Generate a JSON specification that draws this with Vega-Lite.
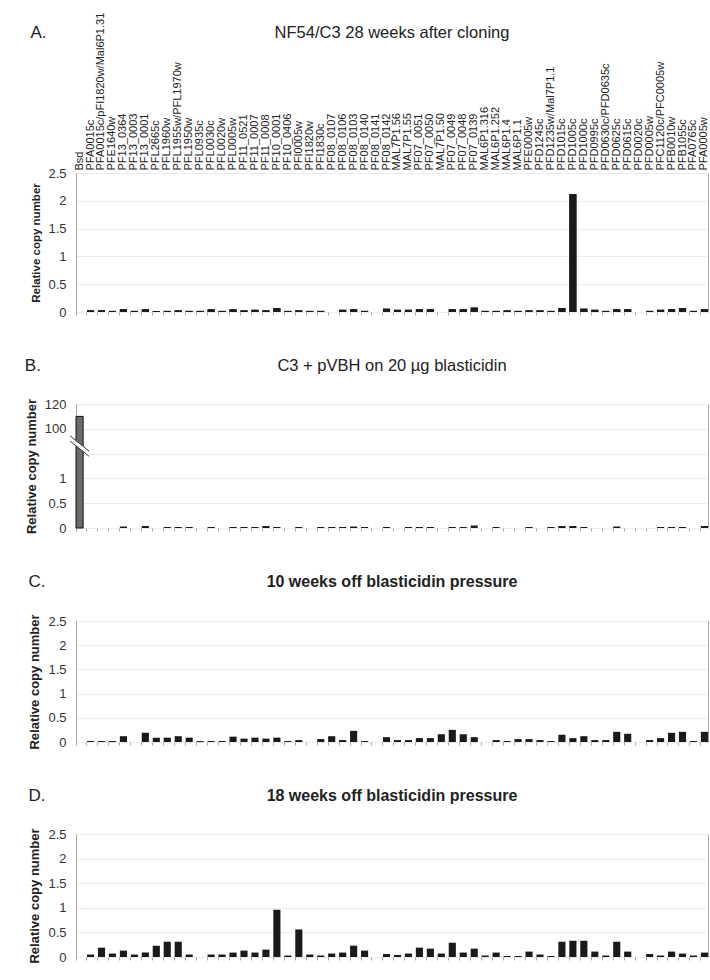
{
  "$schema": "https://vega.github.io/schema/vega-lite/v6.json",
  "padding": {"left": 24, "top": 11, "right": 0, "bottom": 0},
  "autosize": {"type": "pad"},
  "config": {
    "font": "Liberation Sans",
    "view": {"stroke": "#a6a6a6", "strokeWidth": 1},
    "axis": {"labelFont": "Liberation Sans", "titleFont": "Liberation Sans"},
    "title": {"font": "Liberation Sans", "color": "#222222", "fontWeight": "normal"},
    "concat": {"spacing": 37}
  },
  "data": {"values": [
    {"gene": "Bsd", "a": 0, "b": 110, "c": 0, "d": 0},
    {"gene": "PFA0015c", "a": 0.03, "b": 0, "c": 0.02, "d": 0.05},
    {"gene": "PFA0015c/pFI1820w/Mal6P1.31", "a": 0.03, "b": 0, "c": 0.02, "d": 0.19},
    {"gene": "PFE1640w", "a": 0.02, "b": 0, "c": 0.02, "d": 0.07},
    {"gene": "PF13_0364", "a": 0.05, "b": 0.03, "c": 0.12, "d": 0.13},
    {"gene": "PF13_0003", "a": 0.02, "b": 0, "c": 0, "d": 0.05},
    {"gene": "PF13_0001", "a": 0.05, "b": 0.04, "c": 0.19, "d": 0.09},
    {"gene": "PFL2665c", "a": 0.02, "b": 0, "c": 0.09, "d": 0.23},
    {"gene": "PFL1960w", "a": 0.02, "b": 0.02, "c": 0.09, "d": 0.31},
    {"gene": "PFL1955w/PFL1970w", "a": 0.03, "b": 0.02, "c": 0.12, "d": 0.31},
    {"gene": "PFL1950w", "a": 0.02, "b": 0.02, "c": 0.09, "d": 0.05},
    {"gene": "PFL0935c", "a": 0.02, "b": 0, "c": 0.02, "d": 0},
    {"gene": "PFL0030c", "a": 0.05, "b": 0.02, "c": 0.02, "d": 0.05},
    {"gene": "PFL0020w", "a": 0.02, "b": 0, "c": 0.02, "d": 0.05},
    {"gene": "PFL0005w", "a": 0.05, "b": 0.02, "c": 0.11, "d": 0.09},
    {"gene": "PF11_0521", "a": 0.03, "b": 0.02, "c": 0.07, "d": 0.13},
    {"gene": "PF11_0007", "a": 0.04, "b": 0.02, "c": 0.09, "d": 0.09},
    {"gene": "PF11_0008", "a": 0.03, "b": 0.04, "c": 0.07, "d": 0.15},
    {"gene": "PF10_0001", "a": 0.07, "b": 0.02, "c": 0.09, "d": 0.96},
    {"gene": "PF10_0406", "a": 0.02, "b": 0, "c": 0.02, "d": 0.03},
    {"gene": "PFI0005w", "a": 0.03, "b": 0.02, "c": 0.04, "d": 0.56},
    {"gene": "PFI1820w", "a": 0.02, "b": 0, "c": 0, "d": 0.05},
    {"gene": "PFI1830c", "a": 0.02, "b": 0.02, "c": 0.06, "d": 0.03},
    {"gene": "PF08_0107", "a": 0, "b": 0.02, "c": 0.12, "d": 0.07},
    {"gene": "PF08_0106", "a": 0.04, "b": 0.02, "c": 0.04, "d": 0.09},
    {"gene": "PF08_0103", "a": 0.05, "b": 0.03, "c": 0.23, "d": 0.23},
    {"gene": "PF08_0140", "a": 0.02, "b": 0.02, "c": 0.02, "d": 0.13},
    {"gene": "PF08_0141", "a": 0, "b": 0, "c": 0, "d": 0},
    {"gene": "PF08_0142", "a": 0.06, "b": 0.02, "c": 0.10, "d": 0.06},
    {"gene": "MAL7P1.56", "a": 0.04, "b": 0, "c": 0.04, "d": 0.04},
    {"gene": "MAL7P1.55", "a": 0.04, "b": 0.02, "c": 0.04, "d": 0.07},
    {"gene": "PF07_0051", "a": 0.05, "b": 0.02, "c": 0.08, "d": 0.19},
    {"gene": "PF07_0050", "a": 0.05, "b": 0.02, "c": 0.08, "d": 0.17},
    {"gene": "MAL7P1.50", "a": 0, "b": 0, "c": 0.16, "d": 0.07},
    {"gene": "PF07_0049", "a": 0.05, "b": 0.02, "c": 0.25, "d": 0.29},
    {"gene": "PF07_0048", "a": 0.05, "b": 0.02, "c": 0.16, "d": 0.09},
    {"gene": "PF07_0139", "a": 0.08, "b": 0.05, "c": 0.10, "d": 0.17},
    {"gene": "MAL6P1.316", "a": 0.02, "b": 0, "c": 0, "d": 0.03},
    {"gene": "MAL6P1.252", "a": 0.02, "b": 0.02, "c": 0.04, "d": 0.09},
    {"gene": "MAL6P1.4", "a": 0.03, "b": 0, "c": 0.02, "d": 0.02},
    {"gene": "MAL6P1.1", "a": 0.02, "b": 0, "c": 0.06, "d": 0.02},
    {"gene": "PFE0005w", "a": 0.03, "b": 0.02, "c": 0.06, "d": 0.11},
    {"gene": "PFD1245c", "a": 0.03, "b": 0, "c": 0.04, "d": 0.05},
    {"gene": "PFD1235w/Mal7P1.1", "a": 0.02, "b": 0.02, "c": 0.02, "d": 0.02},
    {"gene": "PFD1015c", "a": 0.07, "b": 0.04, "c": 0.15, "d": 0.31},
    {"gene": "PFD1005c", "a": 2.12, "b": 0.04, "c": 0.08, "d": 0.33},
    {"gene": "PFD1000c", "a": 0.06, "b": 0.02, "c": 0.12, "d": 0.33},
    {"gene": "PFD0995c", "a": 0.04, "b": 0, "c": 0.04, "d": 0.11},
    {"gene": "PFD0630c/PFD0635c", "a": 0.02, "b": 0, "c": 0.04, "d": 0.03},
    {"gene": "PFD0625c", "a": 0.05, "b": 0.03, "c": 0.21, "d": 0.31},
    {"gene": "PFD0615c", "a": 0.05, "b": 0, "c": 0.17, "d": 0.11},
    {"gene": "PFD0020c", "a": 0, "b": 0, "c": 0, "d": 0},
    {"gene": "PFD0005w", "a": 0.02, "b": 0, "c": 0.04, "d": 0.06},
    {"gene": "PFC1120c/PFC0005w", "a": 0.04, "b": 0.02, "c": 0.08, "d": 0.03},
    {"gene": "PFB0010w", "a": 0.05, "b": 0.02, "c": 0.19, "d": 0.11},
    {"gene": "PFB1055c", "a": 0.07, "b": 0.02, "c": 0.21, "d": 0.07},
    {"gene": "PFA0765c", "a": 0.02, "b": 0, "c": 0.02, "d": 0.03},
    {"gene": "PFA0005w", "a": 0.05, "b": 0.04, "c": 0.21, "d": 0.09}
  ]},
  "resolve": {"scale": {"x": "independent", "y": "independent"}},
  "vconcat": [
    {
      "title": {"text": "A.", "anchor": "start", "fontSize": 17, "offset": 0, "dy": 30},
      "vconcat": [{
        "width": 632, "height": 139,
        "title": {"text": "NF54/C3 28 weeks after cloning", "fontSize": 16.5, "anchor": "middle", "offset": -29},
        "layer": [
          {"mark": {"type": "bar", "color": "#1a1a1a"},
           "encoding": {
             "x": {"field": "gene", "type": "nominal", "sort": null, "scale": {"paddingInner": 0.35, "paddingOuter": 0},
                   "axis": {"orient": "top", "title": null, "labelAngle": -90, "labelFontSize": 11, "labelPadding": 3, "ticks": false, "domain": false, "labelOverlap": false, "labelColor": "#222222", "labelLimit": 300}},
             "y": {"field": "a", "type": "quantitative", "scale": {"domain": [0, 2.5], "nice": false},
                   "axis": {"title": "Relative copy number", "titleFontSize": 11.5, "titleFontWeight": "bold", "titleColor": "#222222", "titlePadding": 6, "labelFontSize": 13, "labelColor": "#333333", "labelPadding": 10, "labelOverlap": false, "ticks": false, "domainColor": "#a6a6a6", "gridColor": "#ebebeb", "values": [0, 0.5, 1, 1.5, 2, 2.5], "format": "~g"}}
           }},
          {"mark": {"type": "bar", "color": "#1a1a1a"},
           "encoding": {
             "x": {"field": "gene", "type": "nominal", "sort": null,
                   "axis": {"orient": "bottom", "title": null, "labels": false, "domain": false, "ticks": true, "tickSize": 3, "tickColor": "#a6a6a6", "bandPosition": 0}},
             "y": {"field": "a", "type": "quantitative",
                   "axis": {"title": "Relative copy number", "titleFontSize": 11.5, "titleFontWeight": "bold", "titleColor": "#222222", "titlePadding": 6, "labelFontSize": 13, "labelColor": "#333333", "labelPadding": 10, "labelOverlap": false, "ticks": false, "domainColor": "#a6a6a6", "gridColor": "#ebebeb", "values": [0, 0.5, 1, 1.5, 2, 2.5], "format": "~g"}}
           }}
        ],
        "resolve": {"axis": {"x": "independent"}}
      }]
    },
    {
      "title": {"text": "B.", "anchor": "start", "fontSize": 17, "offset": 0, "dy": 18},
      "vconcat": [{
        "width": 632, "height": 124,
        "title": {"text": "C3 + pVBH on 20 µg blasticidin", "fontSize": 16.5, "anchor": "middle", "offset": 24},
        "layer": [
          {"mark": {"type": "bar", "stroke": "#111111"},
           "encoding": {
             "x": {"field": "gene", "type": "nominal", "sort": null, "scale": {"paddingInner": 0.35, "paddingOuter": 0},
                   "axis": {"orient": "bottom", "title": null, "labels": false, "domain": false, "ticks": true, "tickSize": 3, "tickColor": "#a6a6a6", "bandPosition": 0}},
             "y": {"field": "b", "type": "quantitative", "scale": {"domain": [0, 1, 100, 120], "range": [124, 74.4, 24.8, 0], "nice": false, "zero": false},
                   "axis": {"title": "Relative copy number", "titleFontSize": 13, "titleFontWeight": "bold", "titleColor": "#222222", "titlePadding": 6, "labelFontSize": 13, "labelColor": "#333333", "labelPadding": 10, "labelOverlap": false, "ticks": false, "domainColor": "#a6a6a6", "gridColor": "#ebebeb", "values": [0, 0.5, 1, 50.5, 100, 120], "labelExpr": "datum.value == 50.5 ? '' : '' + datum.value"}},
             "color": {"condition": {"test": "datum.gene === 'Bsd'", "value": "#6b6b6b"}, "value": "#1a1a1a"},
             "strokeWidth": {"condition": {"test": "datum.gene === 'Bsd'", "value": 1}, "value": 0}
           }},
          {"data": {"values": [{}]},
           "mark": {"type": "point", "shape": "M-1,-1.05L1,0.55L1,1.1L-1,-0.5Z", "filled": true, "fill": "white", "strokeWidth": 0, "size": 361, "opacity": 1},
           "encoding": {"x": {"datum": "Bsd"},
             "y": {"datum": 66, "type": "quantitative",
                   "axis": {"title": "Relative copy number", "titleFontSize": 13, "titleFontWeight": "bold", "titleColor": "#222222", "titlePadding": 6, "labelFontSize": 13, "labelColor": "#333333", "labelPadding": 10, "labelOverlap": false, "ticks": false, "domainColor": "#a6a6a6", "gridColor": "#ebebeb", "values": [0, 0.5, 1, 50.5, 100, 120], "labelExpr": "datum.value == 50.5 ? '' : '' + datum.value"}}}},
          {"data": {"values": [{}]},
           "mark": {"type": "point", "shape": "M-1,-1.05L1,0.55M-1,-0.5L1,1.1", "filled": false, "stroke": "#333333", "strokeWidth": 1, "size": 361, "opacity": 1},
           "encoding": {"x": {"datum": "Bsd"},
             "y": {"datum": 66, "type": "quantitative",
                   "axis": {"title": "Relative copy number", "titleFontSize": 13, "titleFontWeight": "bold", "titleColor": "#222222", "titlePadding": 6, "labelFontSize": 13, "labelColor": "#333333", "labelPadding": 10, "labelOverlap": false, "ticks": false, "domainColor": "#a6a6a6", "gridColor": "#ebebeb", "values": [0, 0.5, 1, 50.5, 100, 120], "labelExpr": "datum.value == 50.5 ? '' : '' + datum.value"}}}}
        ]
      }]
    },
    {
      "title": {"text": "C.", "anchor": "start", "fontSize": 17, "offset": 0, "dy": 18},
      "vconcat": [{
        "width": 632, "height": 121,
        "title": {"text": "10 weeks off blasticidin pressure", "fontSize": 16, "fontWeight": "bold", "anchor": "middle", "offset": 24},
        "mark": {"type": "bar", "color": "#1a1a1a"},
        "encoding": {
          "x": {"field": "gene", "type": "nominal", "sort": null, "scale": {"paddingInner": 0.35, "paddingOuter": 0},
                "axis": {"orient": "bottom", "title": null, "labels": false, "domain": false, "ticks": true, "tickSize": 3, "tickColor": "#a6a6a6", "bandPosition": 0}},
          "y": {"field": "c", "type": "quantitative", "scale": {"domain": [0, 2.5], "nice": false},
                "axis": {"title": "Relative copy number", "titleFontSize": 13, "titleFontWeight": "bold", "titleColor": "#222222", "titlePadding": 6, "labelFontSize": 13, "labelColor": "#333333", "labelPadding": 10, "labelOverlap": false, "ticks": false, "domainColor": "#a6a6a6", "gridColor": "#ebebeb", "values": [0, 0.5, 1, 1.5, 2, 2.5], "format": "~g"}}
        }
      }]
    },
    {
      "title": {"text": "D.", "anchor": "start", "fontSize": 17, "offset": 0, "dy": 18},
      "vconcat": [{
        "width": 632, "height": 123,
        "title": {"text": "18 weeks off blasticidin pressure", "fontSize": 16, "fontWeight": "bold", "anchor": "middle", "offset": 24},
        "mark": {"type": "bar", "color": "#1a1a1a"},
        "encoding": {
          "x": {"field": "gene", "type": "nominal", "sort": null, "scale": {"paddingInner": 0.35, "paddingOuter": 0},
                "axis": {"orient": "bottom", "title": null, "labels": false, "domain": false, "ticks": true, "tickSize": 3, "tickColor": "#a6a6a6", "bandPosition": 0}},
          "y": {"field": "d", "type": "quantitative", "scale": {"domain": [0, 2.5], "nice": false},
                "axis": {"title": "Relative copy number", "titleFontSize": 13, "titleFontWeight": "bold", "titleColor": "#222222", "titlePadding": 6, "labelFontSize": 13, "labelColor": "#333333", "labelPadding": 10, "labelOverlap": false, "ticks": false, "domainColor": "#a6a6a6", "gridColor": "#ebebeb", "values": [0, 0.5, 1, 1.5, 2, 2.5], "format": "~g"}}
        }
      }]
    }
  ]
}
